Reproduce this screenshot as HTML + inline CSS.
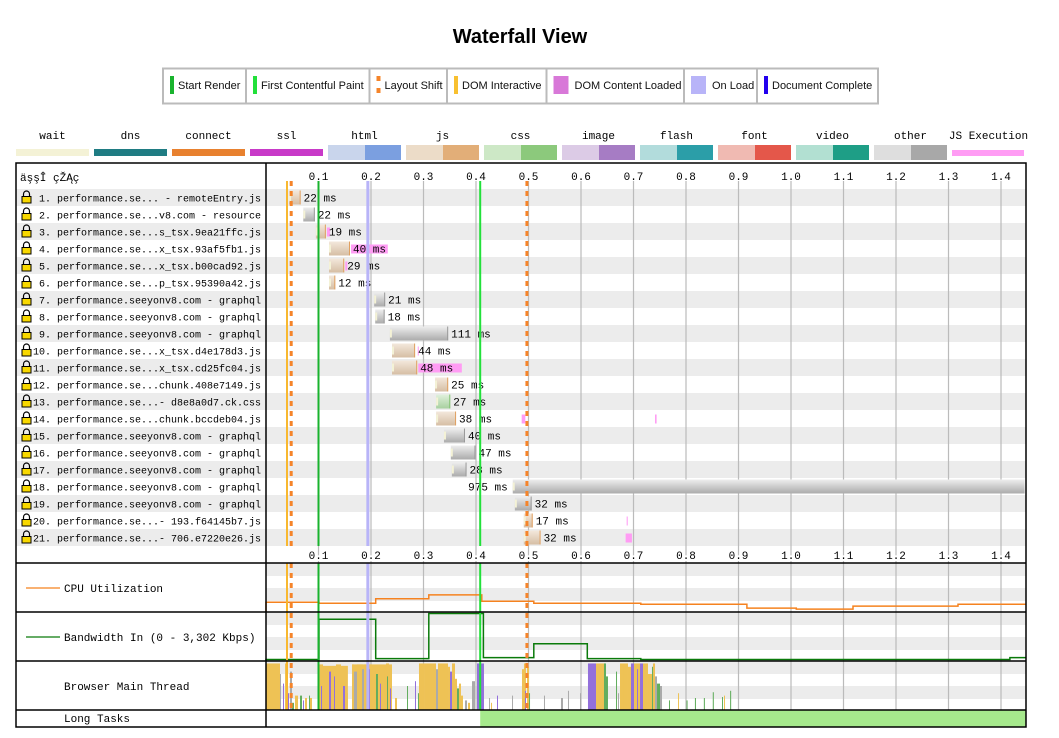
<!DOCTYPE html>
<html><head><meta charset="utf-8"><title>Waterfall View</title>
<style>
html,body{margin:0;padding:0;background:#fff;}
svg{display:block;}
.mono{font-family:"Liberation Mono","DejaVu Sans Mono",monospace;}
.sans{font-family:"Liberation Sans","DejaVu Sans",sans-serif;}
</style></head>
<body>
<svg id="chart" width="1059" height="738" viewBox="0 0 1059 738" xmlns="http://www.w3.org/2000/svg">
<defs>
<linearGradient id="g-js" x1="0" y1="0" x2="0" y2="1"><stop offset="0" stop-color="#f3e8dc"/><stop offset="1" stop-color="#d6bea4"/></linearGradient>
<linearGradient id="g-other" x1="0" y1="0" x2="0" y2="1"><stop offset="0" stop-color="#eeeeee"/><stop offset="1" stop-color="#ababab"/></linearGradient>
<linearGradient id="g-css" x1="0" y1="0" x2="0" y2="1"><stop offset="0" stop-color="#e0f0dc"/><stop offset="1" stop-color="#a8d0a0"/></linearGradient>
</defs>
<text class="sans" x="520" y="43" text-anchor="middle" font-size="20" font-weight="bold">Waterfall View</text>
<g id="legend"></g>
<g id="typelegend"></g>
<g id="wf"></g>
</svg>
<script>
// ---- data ----
const tickLabels = ["0.1","0.2","0.3","0.4","0.5","0.6","0.7","0.8","0.9","1.0","1.1","1.2","1.3","1.4"];
const tickValues = [0.1,0.2,0.3,0.4,0.5,0.6,0.7,0.8,0.9,1.0,1.1,1.2,1.3,1.4];
const reqLabels = [" 1. performance.se... - remoteEntry.js"," 2. performance.se...v8.com - resource"," 3. performance.se...s_tsx.9ea21ffc.js"," 4. performance.se...x_tsx.93af5fb1.js"," 5. performance.se...x_tsx.b00cad92.js"," 6. performance.se...p_tsx.95390a42.js"," 7. performance.seeyonv8.com - graphql"," 8. performance.seeyonv8.com - graphql"," 9. performance.seeyonv8.com - graphql","10. performance.se...x_tsx.d4e178d3.js","11. performance.se...x_tsx.cd25fc04.js","12. performance.se...chunk.408e7149.js","13. performance.se...- d8e8a0d7.ck.css","14. performance.se...chunk.bccdeb04.js","15. performance.seeyonv8.com - graphql","16. performance.seeyonv8.com - graphql","17. performance.seeyonv8.com - graphql","18. performance.seeyonv8.com - graphql","19. performance.seeyonv8.com - graphql","20. performance.se...- 193.f64145b7.js","21. performance.se...- 706.e7220e26.js"];
const reqStart = [0.044,0.071,0.095,0.120,0.120,0.120,0.206,0.208,0.236,0.240,0.240,0.322,0.324,0.324,0.339,0.352,0.354,0.470,0.474,0.491,0.491];
const reqDurMs = [22,22,19,40,29,12,21,18,111,44,48,25,27,38,40,47,28,975,32,17,32];
const reqType = ["js","other","js","js","js","js","other","other","other","js","js","js","css","js","other","other","other","other","other","js","js"];
const jsExecRow = [3,4,5,10,11,14,14,14,20,21];
const jsExecStart = [0.116,0.162,0.151,0.289,0.290,0.487,0.492,0.741,0.687,0.685];
const jsExecEnd = [0.122,0.232,0.155,0.291,0.373,0.493,0.494,0.744,0.689,0.697];
const cpuTimes = [0,0.101,0.209,0.310,0.411,0.510,0.714,0.916,1.010,1.118,1.318];
const cpuPct = [20,18,27,35,22,18,16,8,6,12,16];
const bwTimes = [0,0.101,0.209,0.310,0.414,0.510,0.612,0.714,1.417];
const bwPct = [2,86,4,98,6,35,4,2,6];
// main thread activity segments (ms)
const mtStartMs = [101,163.8,0,26.7,32.4,36.2,40,45.7,49.5,55.2,64.8,70.5,74.3,81.9,83.8,101,104.8,110.5,114.3,120,123.8,129.5,133.3,142.9,146.7,150.5,163.8,167.6,173.3,182.9,186.7,196.2,201.9,209.5,213.3,217.1,221,228.6,230.5,236.2,245.7,268.6,283.8,289.5,291.4,301,316.2,316.2,323.8,327.6,346.7,350.5,354.3,360,363.8,367.6,371.4,379,384.8,392.4,401.9,424.8,428.6,440,468.6,487.6,491.4,493.3,497.1,501,529.5,561.9,575.2,598.1,613.3,628.6,643.8,647.6,666.7,670.5,674.3,681.9,689.5,695.2,701,706.7,712.4,718.1,727.6,735.2,737.1,741,744.8,750.5,767.6,784.8,801,817,834,851,868.6,872.4,884];
const mtEndMs = [156,240,26.7,28.6,34.3,40,43.8,49.5,53.3,61,68.6,72.4,78.1,83.8,87.6,108.6,106.7,118.1,116.2,123.8,129.5,131.4,142.9,144.8,150.5,156.2,167.6,173.3,184.8,186.7,201.9,198.1,209.5,213.3,221,219,224.8,234.3,232.4,238.1,249.5,270.5,285.7,291.4,301,316.2,320,323.8,327.6,346.7,350.5,354.3,360,363.8,367.6,371.4,375.2,382.9,388.6,398.1,415.2,426.7,430.5,441.9,470.5,491.4,495.2,495.2,501,502.9,531.4,565.7,577.1,600,628.6,645.7,647.6,651.4,668.6,672.4,681.9,689.5,695.2,701,712.4,708.6,718.1,727.6,735.2,737.1,741,744.8,750.5,754.3,769.5,786.7,803,819,836,853,870.5,874.3,886];
const mtPct = [92,95,97,75,55,97,35,80,15,30,30,20,25,30,25,95,50,70,85,80,60,70,95,60,50,35,95,80,95,85,95,85,85,75,90,55,85,97,70,45,25,50,60,35,97,97,90,97,85,97,90,80,97,65,45,55,30,20,15,60,97,25,15,30,30,85,97,40,90,35,30,25,40,35,97,97,97,70,80,35,97,97,90,97,97,85,97,97,75,90,97,70,55,50,20,35,20,25,25,37,27,30,40];
const mtType = ["s","s","s","o","l","s","l","o","p","s","p","l","s","p","s","s","l","s","s","l","s","l","s","s","l","s","s","o","s","o","s","l","s","p","s","l","s","s","p","l","s","p","l","p","s","s","o","s","o","s","s","l","s","s","p","s","s","o","s","o","l","o","s","l","o","s","s","l","s","p","o","o","o","o","l","s","p","p","p","o","s","s","s","l","s","l","l","s","s","p","s","o","p","o","p","s","p","p","p","p","p","s","p"];
const longTaskStart = [0.408];
const longTaskEnd = [1.448];

// ---- helpers ----
const NS = "http://www.w3.org/2000/svg";
const X0 = 266, PXS = 525, XR = 1026;
function xs(t){ return X0 + t*PXS; }
function mk(tag, attrs, parent){ const e=document.createElementNS(NS,tag); for(const k in attrs) e.setAttribute(k, attrs[k]); parent.appendChild(e); return e; }
const wf = document.getElementById('wf');
const legend = document.getElementById('legend');
const tl = document.getElementById('typelegend');

// ---- milestone legend ----
mk('rect',{x:163,y:68.5,width:715,height:35,fill:'#fff',stroke:'#bbb','stroke-width':2},legend);
const lgBounds=[163,246,369.5,447,546.5,684,757,878];
const lgNames=["Start Render","First Contentful Paint","Layout Shift","DOM Interactive","DOM Content Loaded","On Load","Document Complete"];
const lgColors=["#19b32e","#22e03a","#f5842a","#f8c030","#d878d8","#b8b4f8","#2200ee"];
const lgW=[4,4,4,4,15,15,4];
for(let i=0;i<7;i++){
  const g=mk('g',{},legend);
  
  
  if(i>0) mk('line',{x1:lgBounds[i],y1:68,x2:lgBounds[i],y2:104,stroke:'#bbb','stroke-width':2},g);
  const sx=lgBounds[i]+6;
  if(i===2){ mk('rect',{x:sx+1,y:76,width:4,height:5,fill:lgColors[i]},g); mk('rect',{x:sx+1,y:88,width:4,height:5,fill:lgColors[i]},g); }
  else mk('rect',{x:sx+1,y:76,width:lgW[i],height:18,fill:lgColors[i]},g);
  const t=mk('text',{x:sx+lgW[i]+(lgW[i]>5?7:5),y:89,'font-size':11,class:'sans',fill:'#111'},g);
  t.textContent=lgNames[i];
}

// ---- resource type legend ----
const tNames=["wait","dns","connect","ssl","html","js","css","image","flash","font","video","other","JS Execution"];
const tLight=["#f4f2d6","#1f7c83","#e8812f","#c83ac8","#c9d5ec","#ecdcc8","#cde8c6","#dccbe6","#b2dcdc","#f0bab2","#b2e0d2","#dedede","#ff9cf4"];
const tDark=[null,null,null,null,"#7b9fe0","#e2ae78","#8cc97c","#a67cc4","#2b9ea8","#e4574a","#1e9e86","#a8a8a8",null];
for(let i=0;i<13;i++){
  const g=mk('g',{},tl);
  
  
  const x=16+i*78;
  const t=mk('text',{x:x+36.5,y:139,'text-anchor':'middle','font-size':11,class:'mono'},g);
  t.textContent=tNames[i];
  if(i<4) mk('rect',{x:x,y:149,width:73,height:7,fill:tLight[i]},g);
  else if(i===12) mk('rect',{x:x,y:150,width:72,height:6,fill:tLight[i]},g);
  else { mk('rect',{x:x,y:145,width:37,height:15,fill:tLight[i]},g); mk('rect',{x:x+37,y:145,width:36,height:15,fill:tDark[i]},g); }
}

// ---- waterfall frame & rows ----
const ROW0=189, RH=17, NR=reqLabels.length;
for(let i=0;i<NR;i++){
  if(i%2===0){ const r=mk('rect',{x:16,y:ROW0+i*RH,width:1010,height:RH,fill:'#ececec'},wf);
      }
}
const secTops=[563,612,661];
secTops.forEach(function(top){
  [0,25].forEach(function(o){ const r=mk('rect',{x:266,y:top+o,width:760,height:13,fill:'#ececec'},wf);
      });
});
tickValues.forEach(function(v,i){
  const x=xs(v);
  const l=mk('line',{x1:x,y1:181,x2:x,y2:563,stroke:'#bbb','stroke-width':1.2},wf);
   
  const l2=mk('line',{x1:x,y1:563,x2:x,y2:710,stroke:'#bbb','stroke-width':1.2},wf);
   
  const t=mk('text',{x:x,y:180,'text-anchor':'middle','font-size':11,class:'mono'},wf);
    t.textContent=tickLabels[i];
  const t2=mk('text',{x:x,y:559,'text-anchor':'middle','font-size':11,class:'mono',fill:'#fff',stroke:'#fff','stroke-width':4},wf);
  t2.textContent=tickLabels[i];
  const t3=mk('text',{x:x,y:559,'text-anchor':'middle','font-size':11,class:'mono'},wf);
    t3.textContent=tickLabels[i];
});

// ---- main thread ----
const mtColors={s:'#eec255',l:'#9370db',p:'#62ad5e',o:'#aaaaaa'};
for(let i=0;i<mtStartMs.length;i++){
  const h=mtPct[i]/100*48;
  const x1=xs(mtStartMs[i]/1000), x2=xs(mtEndMs[i]/1000);
  const r=mk('rect',{x:x1,y:710-h,width:Math.max(1,x2-x1),height:h,fill:mtColors[mtType[i]]},wf);
   
}
for(let i=0;i<longTaskStart.length;i++){
  const r=mk('rect',{x:xs(longTaskStart[i]),y:710,width:Math.min(XR,xs(longTaskEnd[i]))-xs(longTaskStart[i]),height:17,fill:'#a6e98c'},wf);
   
}
function stepPath(times,vals,top,h){
  let d='M'+X0+' '+(top+h);
  for(let i=0;i<times.length;i++){
    const y=top+h-vals[i]/100*h;
    d+=' L'+xs(times[i]).toFixed(1)+' '+y.toFixed(1);
    const xe=i+1<times.length?xs(times[i+1]):XR;
    d+=' L'+xe.toFixed(1)+' '+y.toFixed(1);
  }
  return d;
}
const cpu=mk('path',{d:stepPath(cpuTimes,cpuPct,563,49),fill:'none',stroke:'#f5821f','stroke-width':1.5},wf);
 
const bw=mk('path',{d:stepPath(bwTimes,bwPct,612.5,48),fill:'none',stroke:'#0a7a0a','stroke-width':1.5},wf);
 

// ---- requests ----
const grad={js:'url(#g-js)',other:'url(#g-other)',css:'url(#g-css)'};
const edge={js:'#e0a060',other:'#999',css:'#80c070'};
for(let i=0;i<NR;i++){
  const cy=ROW0+i*RH+8.5;
  const x1=xs(reqStart[i]); let x2=xs(reqStart[i]+reqDurMs[i]/1000);
  const clipped=x2>=XR-2; if(x2>XR) x2=XR;
  const g=mk('g',{},wf);
   
  mk('rect',{x:x1,y:cy-7,width:x2-x1,height:14,fill:grad[reqType[i]]},g);
  mk('rect',{x:x1,y:cy-4,width:2,height:8,fill:'#f4f2d6'},g);
  if(!clipped) mk('rect',{x:x2-1,y:cy-7,width:1,height:14,fill:edge[reqType[i]]},g);
}
for(let k=0;k<jsExecRow.length;k++){
  const cy=ROW0+(jsExecRow[k]-1)*RH+8.5;
  const r=mk('rect',{x:xs(jsExecStart[k]),y:cy-4,width:Math.max(1,(jsExecEnd[k]-jsExecStart[k])*PXS),height:9,fill:'#ff9cf4'},wf);
   
}
for(let i=0;i<NR;i++){
  const cy=ROW0+i*RH+8.5;
  const x1=xs(reqStart[i]); const x2=xs(reqStart[i]+reqDurMs[i]/1000);
  const t=mk('text',{'font-size':11,class:'mono',y:cy+4},wf);
   
  if(x2+45>XR){ t.setAttribute('x',x1-5); t.setAttribute('text-anchor','end'); }
  else t.setAttribute('x',x2+3);
  t.textContent=reqDurMs[i]+' ms';
}

// ---- milestone lines ----
function vline(t,color,w,dash,name){
  [[181,546],[563,710]].forEach(function(s){
    const l=mk('line',{x1:xs(t),y1:s[0],x2:xs(t),y2:s[1],stroke:color,'stroke-width':w},wf);
    if(dash) l.setAttribute('stroke-dasharray',dash);
     
  });
}
vline(0.040,'#f8b830',2,null,'dom-interactive-line');
vline(0.048,'#f5842a',3,'5,5','layout-shift-line');
vline(0.100,'#19b32e',2,null,'start-render-line');
vline(0.194,'#b8b4f8',3,null,'on-load-line');
vline(0.408,'#22e03a',2,null,'first-contentful-paint-line');
vline(0.497,'#f5842a',3,'5,5','layout-shift-line');

// ---- labels column ----
const hd=mk('text',{x:20,y:181,'font-size':11,class:'mono'},wf);
 
hd.textContent='äşşÎ  çŽĄç';
for(let i=0;i<NR;i++){
  const cy=ROW0+i*RH+8.5;
  const g=mk('g',{},wf);
   
  mk('path',{d:'M23.5 '+(cy-1)+' v-2.5 a3 3 0 0 1 6 0 v2.5',fill:'none',stroke:'#000','stroke-width':1.2},g);
  mk('rect',{x:22,y:cy-1,width:9,height:6.5,fill:'#f8d800',stroke:'#000','stroke-width':1},g);
  const t=mk('text',{x:33,y:cy+4,'font-size':10,class:'mono'},g);
  t.setAttribute('style','white-space:pre');
  t.textContent=reqLabels[i];
}
function seclabel(txt,y,name,color){
  if(color){ const l=mk('line',{x1:26,y1:y-4,x2:60,y2:y-4,stroke:color,'stroke-width':1.2},wf);
      }
  const t=mk('text',{x:64,y:y,'font-size':11,class:'mono'},wf);
   
  t.textContent=txt;
}
seclabel('CPU Utilization',592,'cpu-utilization','#f5821f');
seclabel('Bandwidth In (0 - 3,302 Kbps)',641,'bandwidth','#0a7a0a');
seclabel('Browser Main Thread',690,'browser-main-thread',null);
seclabel('Long Tasks',722,'long-tasks',null);

// ---- frame ----
const fr=mk('rect',{x:16,y:163,width:1010,height:564,fill:'none',stroke:'#000','stroke-width':1.5},wf);
 
mk('line',{x1:266,y1:163,x2:266,y2:727,stroke:'#000','stroke-width':1.5},wf);
[563,612,661,710].forEach(function(y){ mk('line',{x1:16,y1:y,x2:1026,y2:y,stroke:'#000','stroke-width':1.5},wf); });
</script>
</body></html>
